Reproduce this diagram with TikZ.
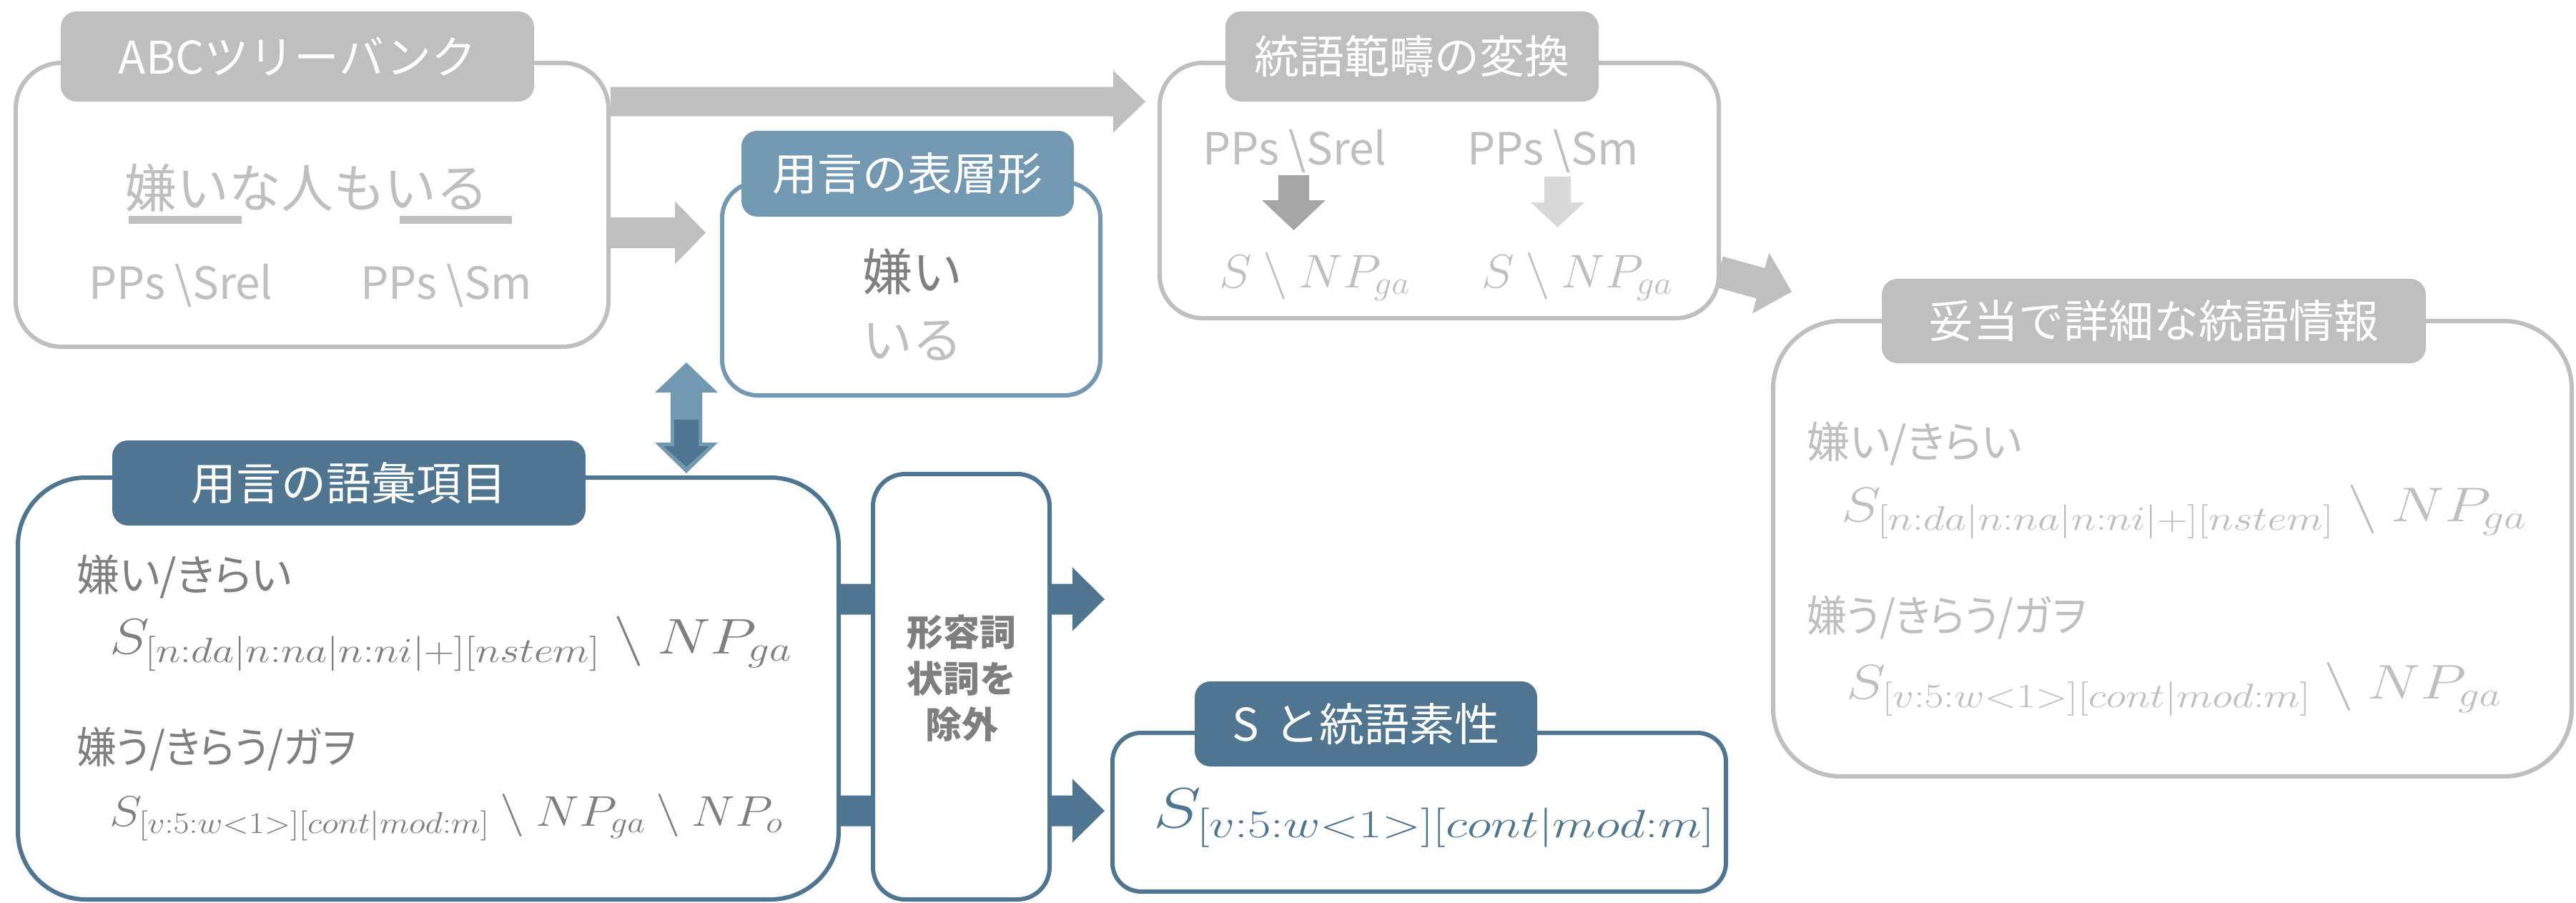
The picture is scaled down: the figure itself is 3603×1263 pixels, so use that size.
\RequirePackage{fix-cm}
\documentclass[tikz,border=0pt]{standalone}
\usepackage{graphicx}
\usepackage[no-math]{fontspec}
\setmainfont{Noto Sans CJK JP}
\newfontfamily\jpp{Noto Sans CJK JP}[RawFeature=+palt]
\usetikzlibrary{calc,backgrounds}
\definecolor{gr}{HTML}{BFBFBF}
\definecolor{grdark}{HTML}{A6A6A6}
\definecolor{grlight}{HTML}{D9D9D9}
\definecolor{txt}{HTML}{7F7F7F}
\definecolor{bl}{HTML}{4F7590}
\definecolor{lb}{HTML}{7399B2}
\newcommand\fsz[1]{\fontsize{#1}{#1}\selectfont}
% block arrow: [style]{start}{tip}{half shaft}{half head}{head length}
\newcommand\blockarrow[6][]{%
  \coordinate (bah) at ($(#3)!#6!(#2)$);
  \fill[#1] ($(#2)!#4!90:(#3)$) -- ($(bah)!#4!90:(#3)$) -- ($(bah)!#5!90:(#3)$) --
    (#3) -- ($(bah)!#5!-90:(#3)$) -- ($(bah)!#4!-90:(#3)$) -- ($(#2)!#4!-90:(#3)$) -- cycle;}
\newcommand\fa{S_{[n:da|n:na|n:ni|+][nstem]}\ \backslash\ NP_{ga}}
\newcommand\fb{S_{[v:5:w<1>][cont|mod:m]}}
\newcommand\wide[2]{\scalebox{#1}[1]{$#2$}}
\begin{document}
\begin{tikzpicture}[x=1pt,y=-1pt,
  frame/.style 2 args={draw=#1, line width=6pt, fill=white, rounded corners=#2, inner sep=0pt},
  tab/.style={fill=#1, rounded corners=22pt, inner sep=0pt, text=white, font=\fsz{63}},
  jp/.style={inner sep=0pt, font=\fsz{60}\jpp},
  pps/.style={inner sep=0pt, anchor=base west, text=gr, font=\fsz{62}},
  formula/.style={inner sep=0pt, anchor=base west}]
\useasboundingbox (0,0) rectangle (3603,1263);

% ---------- ABC treebank ----------
\node[frame={gr}{64pt}, minimum width=829pt, minimum height=397pt] (abc) at (436.5,286.5) {};
\node[tab=gr, minimum width=662pt, minimum height=126pt] (abcT) at (416,79) {ABCツリーバンク};
\node[inner sep=0pt, text=gr, font=\fsz{73}] (sent) at (429,263) {嫌いな人もいる};
\fill[gr] (180,302) rectangle (338,313);
\fill[gr] (559,302) rectangle (716,313);
\node[pps] (pp1) at (124,418) {PPs \textbackslash Srel};
\node[pps] (pp2) at (504,418) {PPs \textbackslash Sm};

% ---------- category conversion ----------
\node[frame={gr}{60pt}, minimum width=782pt, minimum height=357pt] (conv) at (2013,266.5) {};
\node[tab=gr, minimum width=522pt, minimum height=126pt] (convT) at (1975,79) {統語範疇の変換};
\node[pps] (pp3) at (1682,230) {PPs \textbackslash Srel};
\node[pps] (pp4) at (2052,230) {PPs \textbackslash Sm};
\coordinate (c1s) at (1809.5,245); \coordinate (c1t) at (1809.5,322);
\coordinate (c2s) at (2178.5,247); \coordinate (c2t) at (2178.5,318);
\blockarrow[grdark]{c1s}{c1t}{21.5pt}{44.5pt}{42pt}
\blockarrow[grlight]{c2s}{c2t}{18.5pt}{37.5pt}{35pt}
\node[formula, text=gr, font=\fsz{66}] (m1) at (1705,402) {\wide{1.05}{S\ \backslash\ NP_{ga}}};
\node[formula, text=gr, font=\fsz{66}] (m2) at (2072,402) {\wide{1.05}{S\ \backslash\ NP_{ga}}};

% ---------- surface form ----------
\node[frame={lb}{50pt}, minimum width=529pt, minimum height=298pt] (surf) at (1274.5,404) {};
\node[tab=lb, minimum width=465pt, minimum height=120pt] (surfT) at (1269.5,243) {用言の表層形};
\node[inner sep=0pt, text=txt, font=\fsz{70}] (s1) at (1276,380) {嫌い};
\node[inner sep=0pt, text=gr, font=\fsz{70}] (s2) at (1276,477) {いる};

% ---------- lexical items ----------
\node[frame={bl}{95pt}, minimum width=1148pt, minimum height=590pt] (lex) at (599,963) {};
\node[tab=bl, minimum width=662pt, minimum height=119pt] (lexT) at (488,675.5) {用言の語彙項目};
\node[jp, anchor=west, text=txt] (l1) at (107,807) {嫌い/きらい};
\node[formula, text=txt, font=\fsz{70}] (l2) at (153,914) {\wide{1.2}{\fa}};
\node[jp, anchor=west, text=txt] (l3) at (107,1048) {\scalebox{0.93}[1]{嫌う/きらう/ガヲ}};
\node[formula, text=txt, font=\fsz{60}] (l4) at (153,1155) {\wide{1.14}{\fb\ \backslash\ NP_{ga}\ \backslash\ NP_{o}}};

% ---------- exclusion ----------
\node[frame={bl}{45pt}, minimum width=247pt, minimum height=595pt] (excl) at (1344.5,960.5) {};
\node[inner sep=0pt, text=txt, align=center, font=\fontsize{51}{64.5}\selectfont\bfseries] (exclT) at (1345,949) {形容詞\\状詞を\\除外};

% ---------- S and features ----------
\node[frame={bl}{40pt}, minimum width=858pt, minimum height=222pt] (sfeat) at (1985,1136) {};
\node[tab=bl, minimum width=479pt, minimum height=119pt] (sfeatT) at (1910.5,1012.5) {S\hspace{0.35em}と統語素性};
\node[formula, text=bl, font=\fsz{79}] (sf) at (1613,1157) {\wide{1.28}{\fb}};

% ---------- fine-grained info ----------
\node[frame={gr}{95pt}, minimum width=1117pt, minimum height=637pt] (fine) at (3038.5,767.5) {};
\node[tab=gr, minimum width=761pt, minimum height=118pt] (fineT) at (3012.5,449) {妥当で詳細な統語情報};
\node[jp, anchor=west, text=gr] (f1) at (2527,621) {嫌い/きらい};
\node[formula, text=gr, font=\fsz{68}] (f2) at (2575,729) {\wide{1.24}{\fa}};
\node[jp, anchor=west, text=gr] (f3) at (2527,864) {\scalebox{0.93}[1]{嫌う/きらう/ガヲ}};
\node[formula, text=gr, font=\fsz{68}] (f4) at (2582,977) {\wide{1.23}{\fb\ \backslash\ NP_{ga}}};

% ---------- connectors (behind boxes) ----------
\begin{scope}[on background layer]
  \coordinate (t1) at (1602,142);
  \blockarrow[gr]{abc.east |- t1}{t1}{20.5pt}{43.5pt}{45pt}
  \coordinate (t2) at (987,325.5);
  \blockarrow[gr]{abc.east |- t2}{t2}{21.5pt}{44pt}{43pt}
  \coordinate (s3) at (2404,380); \coordinate (t3) at (2506,408);
  \blockarrow[gr]{s3}{t3}{22pt}{44pt}{45pt}
  \coordinate (t4) at (1545,838);
  \blockarrow[bl]{lex.east |- t4}{t4}{21.5pt}{44.5pt}{45pt}
  \coordinate (t5) at (1545,1134);
  \blockarrow[bl]{lex.east |- t5}{t5}{21.5pt}{44.5pt}{45pt}
\end{scope}

% ---------- double arrow between surface form and lexical items ----------
\coordinate (du) at (960,507); \coordinate (dd) at (960,662);
\coordinate (dus) at (960,620); \coordinate (dds) at (960,549);
\coordinate (dis) at (960,587); \coordinate (dit) at (960,653);
\blockarrow[lb]{dus}{du}{22pt}{44pt}{42pt}
\blockarrow[lb]{dds}{dd}{22pt}{44pt}{43pt}
\blockarrow[bl]{dis}{dit}{17pt}{32pt}{29pt}
\end{tikzpicture}
\end{document}
